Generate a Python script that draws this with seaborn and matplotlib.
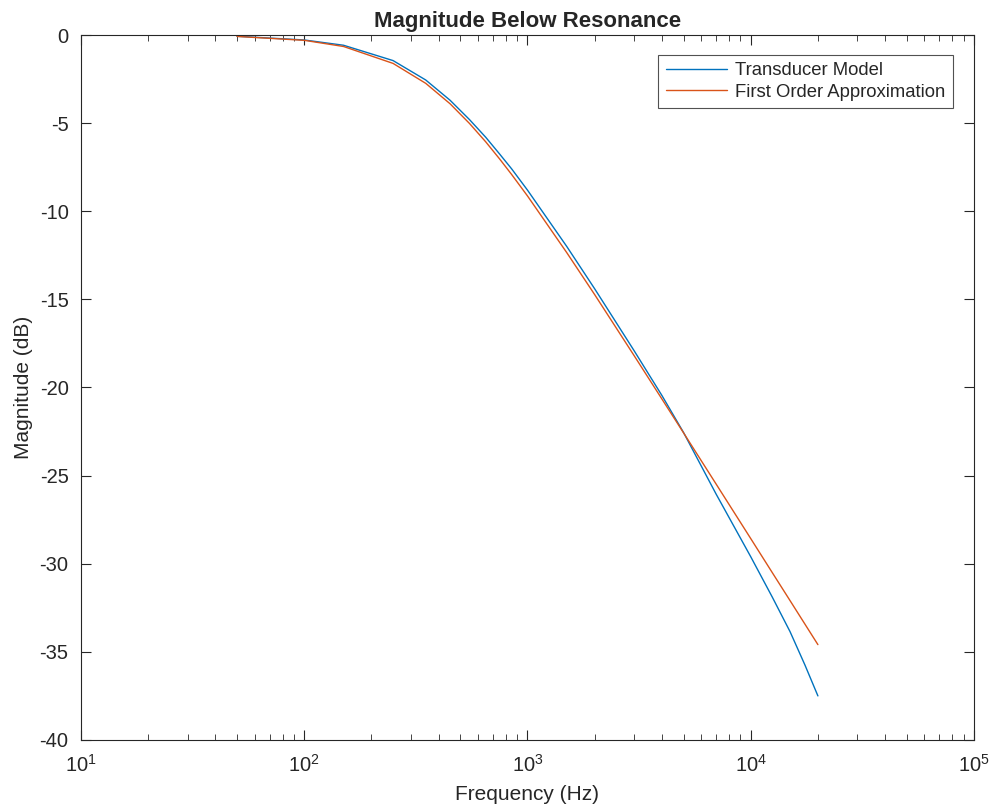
import numpy as np
import pandas as pd
import matplotlib
matplotlib.use("Agg")
import matplotlib.pyplot as plt
import seaborn as sns
from matplotlib.ticker import LogLocator, NullFormatter


# values
freq = [50, 100, 150, 250, 350, 450, 550, 650, 750, 850, 1000, 1500,
        2000, 3000, 4000, 5000, 7000, 10000, 12500, 15000, 17500, 20000]

model_db = [-0.07, -0.28, -0.58, -1.45, -2.55, -3.70, -4.80, -5.80, -6.75,
            -7.60, -8.80, -12.00, -14.40, -17.90, -20.45, -22.55, -26.05,
            -29.60, -31.90, -33.85, -35.75, -37.50]

approx_db = [-0.08, -0.30, -0.65, -1.61, -2.74, -3.90, -5.02, -6.06, -7.03,
             -7.92, -9.13, -12.35, -14.73, -18.18, -20.65, -22.57, -25.48,
             -28.57, -30.51, -32.09, -33.43, -34.59]

series_names = ["Transducer Model", "First Order Approximation"]
colors = ["#0072BD", "#D95319"]

df = pd.DataFrame({
    "freq": freq * 2,
    "mag": model_db + approx_db,
    "series": [series_names[0]] * len(freq) + [series_names[1]] * len(freq),
})

sns.set_style("ticks")
plt.rcParams["font.family"] = ["Liberation Sans", "DejaVu Sans"]
plt.rcParams["mathtext.fontset"] = "custom"
plt.rcParams["mathtext.rm"] = "Liberation Sans"
plt.rcParams["axes.unicode_minus"] = False

fig = plt.figure(figsize=(9.93, 8.11), dpi=100)
ax = fig.add_axes([0.0816, 0.0876, 0.8992, 0.8692])

sns.lineplot(data=df, x="freq", y="mag", hue="series", hue_order=series_names,
             palette=colors, linewidth=1.0, ax=ax, sort=False)

ax.set_xscale("log")
ax.set_xlim(10, 1e5)
ax.set_ylim(-40, 0)
ax.set_yticks(np.arange(-40, 1, 5))
ax.xaxis.set_major_locator(LogLocator(base=10, numticks=10))
ax.xaxis.set_minor_locator(LogLocator(base=10, subs=np.arange(2, 10), numticks=20))
ax.xaxis.set_minor_formatter(NullFormatter())

edge = "#262626"
for s in ax.spines.values():
    s.set_color(edge)
    s.set_linewidth(0.8)
    s.set_visible(True)

ax.tick_params(axis="both", which="major", direction="in", length=7,
               width=0.8, color=edge, labelsize=14.5, labelcolor="#262626",
               top=True, right=True)
ax.tick_params(axis="x", which="minor", direction="in", length=4,
               width=0.6, color=edge, top=True)
ax.tick_params(axis="x", which="major", pad=10)
ax.tick_params(axis="y", which="major", pad=9)

ax.set_xlabel("Frequency (Hz)", fontsize=15, color="#262626", labelpad=7)
ax.set_ylabel("Magnitude (dB)", fontsize=15, color="#262626", labelpad=5)
ax.set_title("Magnitude Below Resonance", fontsize=16, fontweight="bold", pad=6)

leg = ax.legend(loc="upper right", bbox_to_anchor=(0.9865, 0.985),
                fontsize=13.3, frameon=True, fancybox=False,
                handlelength=3.3, borderpad=0.4, labelspacing=0.25,
                handletextpad=0.45)
leg.get_frame().set_edgecolor(edge)
leg.get_frame().set_linewidth(0.8)
leg.set_title(None)

fig.savefig("out.png", dpi=100)
